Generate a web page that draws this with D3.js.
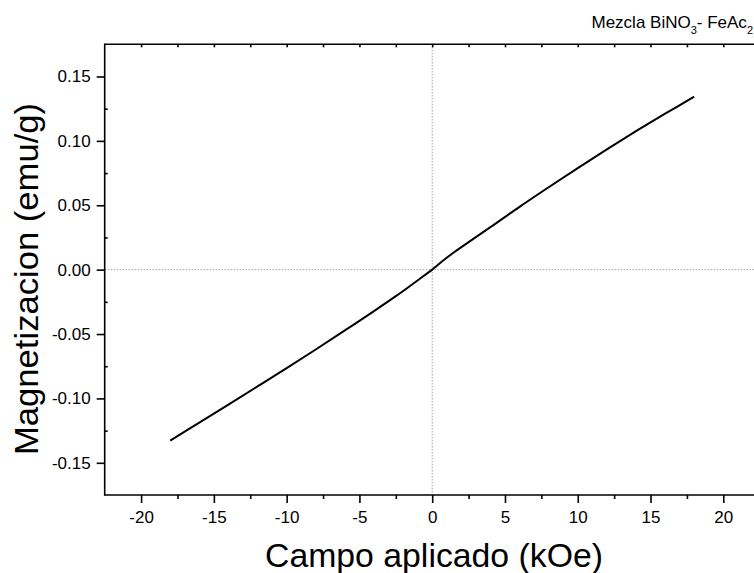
<!DOCTYPE html>
<html><head><meta charset="utf-8">
<script src="https://cdn.jsdelivr.net/npm/d3@7"></script>
<style>
html,body{margin:0;padding:0;background:#fff;}
svg{display:block;font-family:"Liberation Sans",Arial,sans-serif;}
</style></head>
<body><svg id="c" width="754" height="573"></svg>
<script>
// Data (field in kOe, magnetization in emu/g)
const field = [-18,-16,-14,-12,-10,-8,-6,-4,-2.5,-1.5,-0.8,-0.3,0,0.3,0.8,1.5,2.5,4,6,8,10,12,14,16,18];
const magnetization = [-0.1327,-0.1188,-0.1048,-0.0907,-0.0765,-0.0620,-0.0472,-0.0322,-0.0206,-0.0125,-0.0067,-0.0025,0,0.0029,0.0075,0.0135,0.0214,0.0330,0.0488,0.0640,0.0789,0.0934,0.1075,0.1211,0.1343];
const xTicks = [-20,-15,-10,-5,0,5,10,15,20];
const xMinor = [-17.5,-12.5,-7.5,-2.5,2.5,7.5,12.5,17.5];
const yTicks = [-0.15,-0.10,-0.05,0.00,0.05,0.10,0.15];
const yMinor = [-0.125,-0.075,-0.025,0.025,0.075,0.125];
const xDomain = [-22.5, 22.5];
const yDomain = [-0.175, 0.175];
const xTitle = "Campo aplicado (kOe)";
const yTitle = "Magnetizacion (emu/g)";

const svg = d3.select("#c");
const L = 104.7, T = 44.3, B = 495, R = 759.7;
const x = d3.scaleLinear().domain(xDomain).range([L, R]);
const y = d3.scaleLinear().domain(yDomain).range([B, T]);
const sw = 1.6;
const hy = f => (v => f(v).replace("\u2212", "-"));

// zero reference lines
svg.append("line").attr("x1", L).attr("x2", 754).attr("y1", y(0)).attr("y2", y(0))
  .attr("stroke", "#777").attr("stroke-width", 1).attr("stroke-dasharray", "1,2");
svg.append("line").attr("x1", x(0)).attr("x2", x(0)).attr("y1", T).attr("y2", B)
  .attr("stroke", "#777").attr("stroke-width", 1).attr("stroke-dasharray", "1,2");

// data curve
const line = d3.line().x((d,i)=>x(field[i])).y((d,i)=>y(magnetization[i])).curve(d3.curveCatmullRom.alpha(0.5));
svg.append("path").datum(field).attr("d", line).attr("fill","none").attr("stroke","#000").attr("stroke-width",2);

// bottom axis
const gx = svg.append("g").attr("transform", `translate(0,${B})`);
gx.call(d3.axisBottom(x).tickValues(xTicks).tickSize(8).tickPadding(8).tickFormat(hy(d3.format("d"))));
gx.append("g").call(d3.axisBottom(x).tickValues(xMinor).tickSize(4).tickFormat(""));
// top axis (inward ticks)
const gt = svg.append("g").attr("transform", `translate(0,${T})`);
gt.call(d3.axisBottom(x).tickValues(xTicks.concat(xMinor)).tickSize(3).tickFormat(""));
// left axis
const gy = svg.append("g").attr("transform", `translate(${L},0)`);
gy.call(d3.axisLeft(y).tickValues(yTicks).tickSize(8).tickPadding(6).tickFormat(hy(d3.format(".2f"))));
gy.append("g").call(d3.axisRight(y).tickValues(yMinor).tickSize(3).tickFormat(""));

svg.selectAll(".domain").remove();
svg.selectAll(".tick line").attr("stroke","#000").attr("stroke-width",sw);
svg.selectAll(".tick text").attr("font-size",17).attr("fill","#000").attr("font-family","Liberation Sans, Arial, sans-serif");

// frame lines
svg.append("line").attr("x1",L).attr("x2",L).attr("y1",T-0.8).attr("y2",B+0.8).attr("stroke","#000").attr("stroke-width",sw);
svg.append("line").attr("x1",L).attr("x2",754).attr("y1",B).attr("y2",B).attr("stroke","#000").attr("stroke-width",sw);
svg.append("line").attr("x1",L).attr("x2",754).attr("y1",T).attr("y2",T).attr("stroke","#000").attr("stroke-width",sw);

// titles
svg.append("text").attr("x", 434).attr("y", 567).attr("text-anchor","middle")
  .attr("font-size",33).attr("fill","#000")
  .attr("textLength",338).attr("lengthAdjust","spacingAndGlyphs").text(xTitle);
svg.append("text").attr("transform","translate(38,279) rotate(-90)").attr("text-anchor","middle")
  .attr("font-size",33).attr("fill","#000")
  .attr("textLength",352).attr("lengthAdjust","spacingAndGlyphs").text(yTitle);

// label top-right
const lab = svg.append("text").attr("x",753).attr("y",28).attr("text-anchor","end").attr("font-size",17).attr("fill","#000");
lab.append("tspan").text("Mezcla BiNO");
lab.append("tspan").attr("font-size",11).attr("dy",6).text("3");
lab.append("tspan").attr("dy",-6).text("- FeAc");
lab.append("tspan").attr("font-size",11).attr("dy",6).text("2");
</script></body></html>
